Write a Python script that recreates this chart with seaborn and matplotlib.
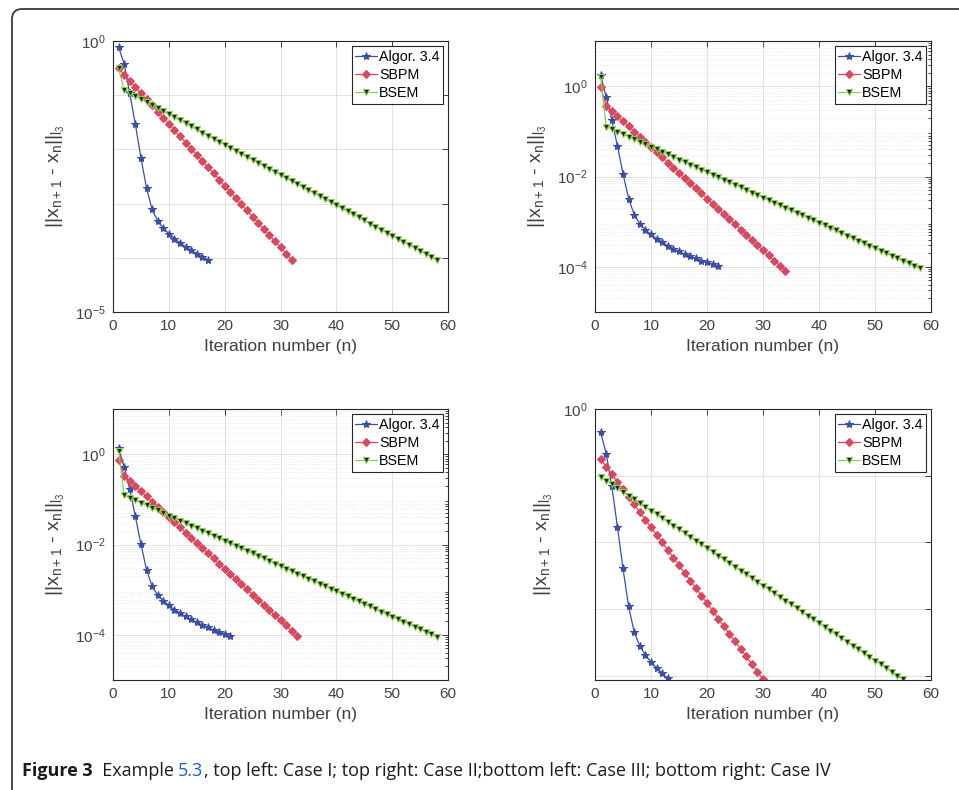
import numpy as np
import seaborn as sns
import matplotlib.pyplot as plt
import matplotlib.ticker as mticker
from matplotlib.patches import FancyBboxPatch
from matplotlib.transforms import IdentityTransform

sns.set_style('white')
plt.rcParams['font.family'] = ['Liberation Sans', 'DejaVu Sans']
plt.rcParams['mathtext.fontset'] = 'custom'
plt.rcParams['mathtext.rm'] = 'Liberation Sans'
plt.rcParams['mathtext.it'] = 'Liberation Sans'

# Case I (top left)
case1_algor = [0.774, 0.376, 0.108, 0.0293, 0.0070, 0.00195, 7.8e-4, 4.8e-4, 3.5e-4, 2.8e-4,
               2.26e-4, 1.88e-4, 1.59e-4, 1.38e-4, 1.20e-4, 1.04e-4, 9.1e-5]
case1_sbpm = [0.313, 0.240, 0.185, 0.142, 0.109, 0.0841, 0.0647, 0.0498, 0.0383, 0.0294,
              0.0226, 0.0174, 0.0134, 0.0103, 0.00793, 0.00610, 0.00469, 0.00361, 0.00277, 0.00213,
              0.00164, 0.00126, 9.7e-4, 7.46e-4, 5.74e-4, 4.42e-4, 3.40e-4, 2.61e-4, 2.01e-4, 1.55e-4,
              1.19e-4, 9.1e-5]
case1_bsem = [0.313, 0.124, 0.1094, 0.0962, 0.0845, 0.0743, 0.0653, 0.0574, 0.0505, 0.0444,
              0.0390, 0.0343, 0.0301, 0.0265, 0.0233, 0.0205, 0.0180, 0.0158, 0.0139, 0.0122,
              0.0108, 0.00946, 0.00832, 0.00731, 0.00643, 0.00565, 0.00497, 0.00437, 0.00384, 0.00337,
              0.00296, 0.00261, 0.00229, 0.00201, 0.00177, 0.00156, 0.00137, 0.00120, 0.00106, 9.29e-4,
              8.17e-4, 7.18e-4, 6.31e-4, 5.55e-4, 4.88e-4, 4.29e-4, 3.77e-4, 3.31e-4, 2.91e-4, 2.56e-4,
              2.25e-4, 1.98e-4, 1.74e-4, 1.53e-4, 1.34e-4, 1.18e-4, 1.04e-4, 9.1e-5]

# Case II (top right)
case2_algor = [1.73, 0.58, 0.18, 0.048, 0.0115, 0.00324, 0.00143, 8.9e-4, 6.6e-4, 5.2e-4,
               4.2e-4, 3.5e-4, 2.93e-4, 2.51e-4, 2.19e-4, 1.91e-4, 1.70e-4, 1.53e-4, 1.38e-4, 1.25e-4,
               1.15e-4, 1.02e-4]
case2_sbpm = [0.97, 0.37, 0.283, 0.218, 0.167, 0.129, 0.0989, 0.0760, 0.0585, 0.0450,
              0.0345, 0.0266, 0.0204, 0.0157, 0.0121, 0.00927, 0.00713, 0.00548, 0.00422, 0.00324,
              0.00249, 0.00191, 0.00147, 0.00113, 8.71e-4, 6.69e-4, 5.14e-4, 3.95e-4, 3.04e-4, 2.34e-4,
              1.80e-4, 1.38e-4, 1.06e-4, 8.2e-5]
case2_bsem = [1.61, 0.127, 0.1117, 0.0982, 0.0863, 0.0758, 0.0667, 0.0586, 0.0515, 0.0452,
              0.0397, 0.0349, 0.0307, 0.0270, 0.0237, 0.0208, 0.0183, 0.0161, 0.0142, 0.0124,
              0.0109, 0.00960, 0.00844, 0.00741, 0.00652, 0.00573, 0.00503, 0.00442, 0.00389, 0.00342,
              0.00301, 0.00264, 0.00232, 0.00204, 0.00179, 0.00157, 0.00138, 0.00122, 0.00107, 9.40e-4,
              8.26e-4, 7.26e-4, 6.38e-4, 5.61e-4, 4.93e-4, 4.33e-4, 3.81e-4, 3.35e-4, 2.94e-4, 2.58e-4,
              2.27e-4, 2.00e-4, 1.75e-4, 1.54e-4, 1.35e-4, 1.19e-4, 1.05e-4, 9.2e-5]

# Case III (bottom left)
case3_algor = [1.36, 0.52, 0.167, 0.0426, 0.0102, 0.00278, 0.00119, 7.6e-4, 5.7e-4, 4.49e-4,
               3.6e-4, 3.03e-4, 2.55e-4, 2.19e-4, 1.91e-4, 1.64e-4, 1.46e-4, 1.29e-4, 1.17e-4, 1.07e-4,
               9.5e-5]
case3_sbpm = [0.74, 0.336, 0.255, 0.196, 0.151, 0.116, 0.0891, 0.0685, 0.0526, 0.0404,
              0.0311, 0.0239, 0.0184, 0.0141, 0.0108, 0.00834, 0.00641, 0.00492, 0.00378, 0.00291,
              0.00224, 0.00172, 0.00132, 0.00102, 7.80e-4, 6.00e-4, 4.61e-4, 3.54e-4, 2.72e-4, 2.09e-4,
              1.61e-4, 1.24e-4, 9.5e-5]
case3_bsem = [1.19, 0.123, 0.1079, 0.0948, 0.0834, 0.0733, 0.0644, 0.0566, 0.0498, 0.0438,
              0.0385, 0.0338, 0.0297, 0.0261, 0.0230, 0.0202, 0.0178, 0.0156, 0.0137, 0.0121,
              0.0106, 0.00933, 0.00820, 0.00721, 0.00634, 0.00557, 0.00490, 0.00431, 0.00378, 0.00333,
              0.00292, 0.00257, 0.00226, 0.00199, 0.00175, 0.00153, 0.00135, 0.00119, 0.00104, 9.18e-4,
              8.07e-4, 7.10e-4, 6.24e-4, 5.48e-4, 4.82e-4, 4.24e-4, 3.72e-4, 3.27e-4, 2.88e-4, 2.53e-4,
              2.22e-4, 1.95e-4, 1.72e-4, 1.51e-4, 1.33e-4, 1.17e-4, 1.03e-4, 9.0e-5]

# Case IV (bottom right)
case4_algor = [0.448, 0.215, 0.0697, 0.0173, 0.00408, 0.00110, 4.55e-4, 2.81e-4, 2.06e-4, 1.62e-4,
               1.32e-4, 1.10e-4, 9.2e-5]
case4_sbpm = [0.179, 0.1375, 0.1057, 0.0813, 0.0626, 0.0482, 0.0371, 0.0285, 0.0219, 0.0169,
              0.0130, 0.0100, 0.00769, 0.00591, 0.00455, 0.00350, 0.00269, 0.00207, 0.00160, 0.00123,
              9.44e-4, 7.26e-4, 5.58e-4, 4.30e-4, 3.30e-4, 2.54e-4, 1.96e-4, 1.51e-4, 1.16e-4, 8.9e-5]
case4_bsem = [0.0961, 0.0845, 0.0743, 0.0653, 0.0574, 0.0504, 0.0443, 0.0389, 0.0342, 0.0301,
              0.0264, 0.0232, 0.0204, 0.0179, 0.0157, 0.0138, 0.0121, 0.0107, 0.00938, 0.00824,
              0.00724, 0.00636, 0.00559, 0.00491, 0.00432, 0.00379, 0.00333, 0.00293, 0.00257, 0.00226,
              0.00199, 0.00175, 0.00153, 0.00135, 0.00119, 0.00104, 9.15e-4, 8.04e-4, 7.06e-4, 6.21e-4,
              5.45e-4, 4.79e-4, 4.21e-4, 3.70e-4, 3.25e-4, 2.86e-4, 2.51e-4, 2.21e-4, 1.94e-4, 1.70e-4,
              1.50e-4, 1.32e-4, 1.16e-4, 1.01e-4, 8.9e-5]

series_names = ['Algor. 3.4', 'SBPM', 'BSEM']
caption_parts = ['Figure 3', '  Example ', '5.3',
                 ', top left: Case I; top right: Case II;bottom left: Case III; bottom right: Case IV']

txt = '#404040'
axcol = '#262626'
styles = [dict(color='#3b4fa3', marker='*', markersize=6, markerfacecolor='#3b4fa3',
               markeredgecolor='#3b4fa3'),
          dict(color='#e8404e', marker='D', markersize=3.6, markerfacecolor='#c8506e',
               markeredgecolor='#e8404e'),
          dict(color='#8ccd5a', marker='v', markersize=4.6, markerfacecolor='#1a2a10',
               markeredgecolor='#8ccd5a')]


def draw_panel(ax, data, ylim, major, labelled, minor):
    for vals, name, st in zip(data, series_names, styles):
        n = np.arange(1, len(vals) + 1)
        sns.lineplot(x=n, y=vals, ax=ax, label=name, linewidth=0.9, **st)
    ax.set_yscale('log')
    ax.set_xlim(0, 60)
    ax.set_ylim(*ylim)
    ax.set_xticks(np.arange(0, 61, 10))
    ax.set_yticks(major)
    ax.set_yticklabels([r'$\mathregular{10^{%d}}$' % round(np.log10(m)) if m in labelled else ''
                        for m in major])
    if minor:
        ax.yaxis.set_minor_locator(mticker.LogLocator(base=10, subs=np.arange(2, 10), numticks=20))
        ax.grid(True, which='minor', axis='y', color='#e6e6e6', linestyle=':', linewidth=0.6)
    else:
        ax.yaxis.set_minor_locator(mticker.NullLocator())
    ax.yaxis.set_minor_formatter(mticker.NullFormatter())
    ax.grid(True, which='major', color='#e2e2e2', linestyle='-', linewidth=0.7)
    ax.set_axisbelow(True)
    ax.tick_params(axis='both', which='both', direction='in', top=True, right=True,
                   colors=axcol, labelcolor=txt, labelsize=11, length=4, width=0.6, pad=5)
    ax.tick_params(which='minor', length=2)
    for sp in ax.spines.values():
        sp.set_color(axcol)
        sp.set_linewidth(0.8)
    ax.set_xlabel('Iteration number (n)', fontsize=12.5, color=txt, labelpad=4)
    ax.set_ylabel(r'||x$_{n+1}$ - x$_n$||$_{l_3}$', fontsize=14, color=txt, labelpad=6)
    leg = ax.legend(loc='upper right', fontsize=10.3, frameon=True, fancybox=False,
                    handlelength=1.5, handletextpad=0.15, labelspacing=0.3,
                    borderpad=0.25, borderaxespad=0.35, framealpha=1)
    leg.get_frame().set_edgecolor(axcol)
    leg.get_frame().set_linewidth(0.8)
    for t in leg.get_texts():
        t.set_color('#000000')


fig = plt.figure(figsize=(9.59, 7.9), dpi=100)
W, H = 959, 790
ax1 = fig.add_axes([113 / W, 1 - 312 / H, 335 / W, 271 / H])
ax2 = fig.add_axes([595 / W, 1 - 312 / H, 336 / W, 271 / H])
ax3 = fig.add_axes([113 / W, 1 - 680 / H, 335 / W, 271 / H])
ax4 = fig.add_axes([595 / W, 1 - 680 / H, 336 / W, 271 / H])

draw_panel(ax1, [case1_algor, case1_sbpm, case1_bsem], (1e-5, 1),
           [1e-5, 1e-4, 1e-3, 1e-2, 1e-1, 1], [1e-5, 1], False)
draw_panel(ax2, [case2_algor, case2_sbpm, case2_bsem], (1e-5, 10),
           [1e-4, 1e-2, 1], [1e-4, 1e-2, 1], True)
draw_panel(ax3, [case3_algor, case3_sbpm, case3_bsem], (1e-5, 10),
           [1e-4, 1e-2, 1], [1e-4, 1e-2, 1], True)
draw_panel(ax4, [case4_algor, case4_sbpm, case4_bsem], (10 ** -4.06, 1),
           [1e-4, 1e-3, 1e-2, 1e-1, 1], [1], False)

# page frame with rounded corner
frame = FancyBboxPatch((12, -60), 1100, 60 + (H - 9), boxstyle='round,pad=0,rounding_size=10',
                       transform=IdentityTransform(), facecolor='none', edgecolor='#3a3a3a',
                       linewidth=1.3, clip_on=False)
fig.patches.append(frame)

# caption, pieced together
fig.canvas.draw()
renderer = fig.canvas.get_renderer()
x = 22
for i, part in enumerate(caption_parts):
    t = fig.text(x / W, 1 - 771 / H, part, fontsize=13, va='center', ha='left',
                 color='#2060c0' if i == 2 else '#1a1a1a',
                 weight='bold' if i == 0 else 'normal', family='Open Sans')
    bb = t.get_window_extent(renderer)
    x += bb.width

fig.savefig('out.png', dpi=100)
